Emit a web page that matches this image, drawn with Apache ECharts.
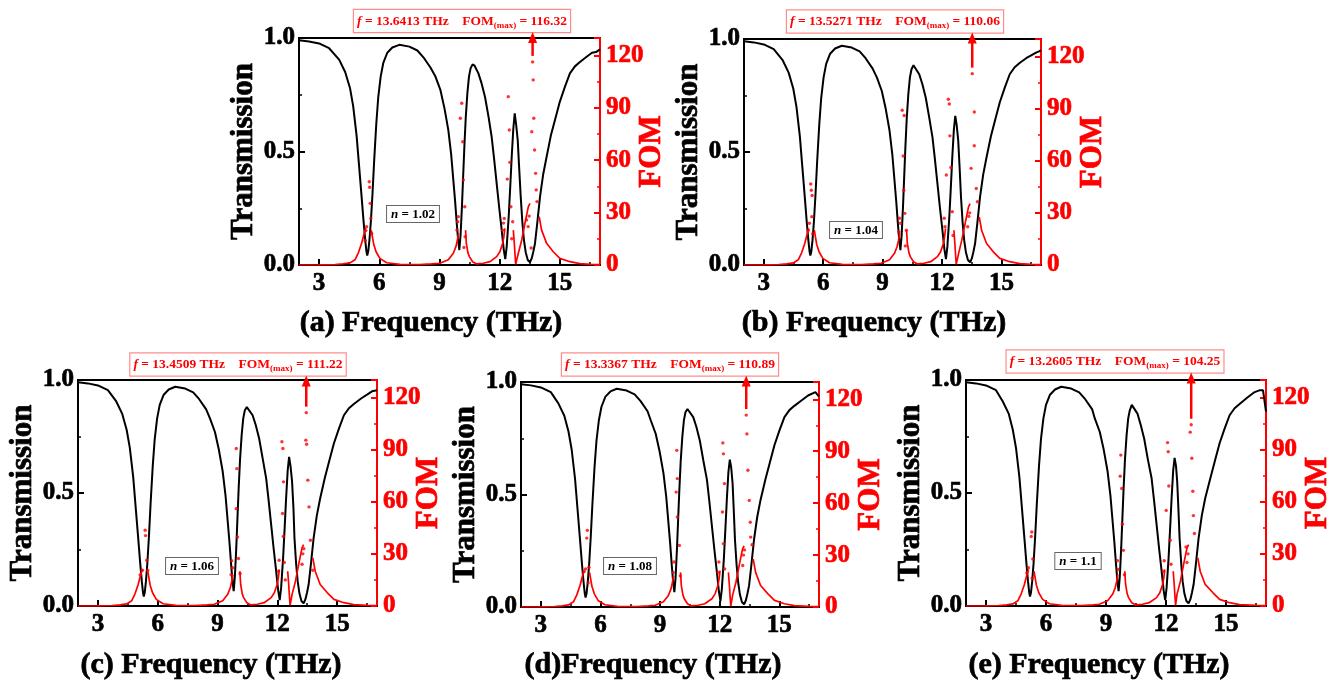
<!DOCTYPE html>
<html><head><meta charset="utf-8">
<script src="https://cdn.jsdelivr.net/npm/echarts@6/dist/echarts.min.js"></script>
<style>html,body{margin:0;padding:0;background:#fff}#c{width:1337px;height:689px}</style>
</head><body><div id="c"></div>
<script>
// ---------- data ----------
const panelLetters = ['(a) ', '(b) ', '(c) ', '(d)', '(e) '];
const nValues = ['1.02', '1.04', '1.06', '1.08', '1.1'];
const fPeak = [13.6413, 13.5271, 13.4509, 13.3367, 13.2605];
const fomMax = [116.32, 110.06, 111.22, 110.89, 104.25];
const xTickLabels = [3, 6, 9, 12, 15];
const xMinorTicks = [4.5, 7.5, 10.5, 13.5, 16.5];

const transA = [[2,0.99],[2.5,0.985],[3,0.976],[3.5,0.955],[4.0,0.905],[4.3,0.85],[4.54,0.78],[4.7,0.70],[4.87,0.57],[5.0,0.43],[5.12,0.30],[5.22,0.19],[5.30,0.11],[5.36,0.06],[5.40,0.042],[5.45,0.06],[5.51,0.11],[5.58,0.19],[5.66,0.31],[5.74,0.45],[5.85,0.62],[5.95,0.74],[6.07,0.83],[6.2,0.89],[6.4,0.935],[6.65,0.958],[7.0,0.97],[7.5,0.962],[7.9,0.945],[8.2,0.915],[8.55,0.87],[8.8,0.83],[9.05,0.77],[9.25,0.69],[9.44,0.595],[9.58,0.49],[9.69,0.375],[9.78,0.28],[9.86,0.185],[9.93,0.11],[9.99,0.066],[10.05,0.13],[10.12,0.257],[10.18,0.39],[10.24,0.52],[10.31,0.65],[10.39,0.756],[10.47,0.83],[10.55,0.866],[10.65,0.884],[10.75,0.878],[10.94,0.844],[11.1,0.80],[11.27,0.74],[11.45,0.65],[11.6,0.565],[11.72,0.47],[11.85,0.36],[11.98,0.25],[12.1,0.155],[12.2,0.07],[12.28,0.026],[12.35,0.08],[12.45,0.213],[12.53,0.35],[12.6,0.477],[12.68,0.60],[12.75,0.668],[12.82,0.62],[12.9,0.55],[12.97,0.43],[13.05,0.30],[13.13,0.19],[13.21,0.11],[13.3,0.055],[13.4,0.022],[13.51,0.012],[13.6,0.03],[13.68,0.06],[13.76,0.095],[13.88,0.19],[14.01,0.30],[14.17,0.40],[14.34,0.477],[14.55,0.57],[14.76,0.64],[15.0,0.72],[15.25,0.785],[15.5,0.844],[15.75,0.875],[16.0,0.894],[16.3,0.915],[16.6,0.935],[16.8,0.938],[17,0.95]];
const transB = [[2,0.99],[2.5,0.985],[3,0.976],[3.5,0.955],[3.96,0.905],[4.26,0.85],[4.49,0.78],[4.65,0.70],[4.82,0.57],[4.95,0.43],[5.07,0.30],[5.17,0.19],[5.25,0.11],[5.31,0.06],[5.35,0.042],[5.40,0.06],[5.46,0.11],[5.53,0.19],[5.61,0.31],[5.69,0.45],[5.80,0.62],[5.90,0.74],[6.02,0.83],[6.15,0.89],[6.35,0.935],[6.60,0.958],[6.94,0.97],[7.44,0.962],[7.84,0.945],[8.14,0.915],[8.49,0.87],[8.71,0.83],[8.96,0.77],[9.16,0.69],[9.35,0.595],[9.49,0.49],[9.60,0.375],[9.69,0.28],[9.77,0.185],[9.84,0.11],[9.90,0.066],[9.96,0.13],[10.03,0.257],[10.09,0.39],[10.15,0.52],[10.22,0.65],[10.30,0.756],[10.38,0.83],[10.46,0.866],[10.56,0.884],[10.66,0.878],[10.85,0.844],[11.01,0.80],[11.18,0.74],[11.36,0.65],[11.52,0.565],[11.64,0.47],[11.77,0.36],[11.90,0.25],[12.02,0.155],[12.12,0.07],[12.20,0.026],[12.27,0.08],[12.37,0.213],[12.45,0.35],[12.52,0.477],[12.60,0.60],[12.67,0.66],[12.74,0.62],[12.82,0.55],[12.89,0.43],[12.96,0.30],[13.04,0.19],[13.12,0.11],[13.21,0.055],[13.31,0.022],[13.42,0.012],[13.51,0.03],[13.59,0.06],[13.67,0.095],[13.79,0.19],[13.92,0.30],[14.08,0.40],[14.25,0.477],[14.47,0.57],[14.68,0.64],[14.92,0.72],[15.17,0.785],[15.42,0.844],[15.67,0.875],[15.92,0.894],[16.25,0.915],[16.55,0.93],[16.75,0.94],[16.9,0.945],[17,0.95]];
const transC = [[2,0.99],[2.5,0.985],[3,0.976],[3.5,0.955],[3.92,0.905],[4.22,0.85],[4.44,0.78],[4.60,0.70],[4.77,0.57],[4.90,0.43],[5.02,0.30],[5.12,0.19],[5.20,0.11],[5.26,0.06],[5.30,0.042],[5.35,0.06],[5.41,0.11],[5.48,0.19],[5.56,0.31],[5.64,0.45],[5.75,0.62],[5.85,0.74],[5.97,0.83],[6.10,0.89],[6.30,0.935],[6.55,0.958],[6.88,0.97],[7.38,0.962],[7.78,0.945],[8.08,0.915],[8.43,0.87],[8.62,0.83],[8.87,0.77],[9.07,0.69],[9.26,0.595],[9.40,0.49],[9.51,0.375],[9.60,0.28],[9.68,0.185],[9.75,0.11],[9.81,0.066],[9.87,0.13],[9.94,0.257],[10.00,0.39],[10.06,0.52],[10.13,0.65],[10.21,0.756],[10.29,0.83],[10.37,0.866],[10.47,0.88],[10.57,0.875],[10.76,0.844],[10.92,0.80],[11.09,0.74],[11.27,0.65],[11.44,0.565],[11.56,0.47],[11.69,0.36],[11.82,0.25],[11.94,0.155],[12.04,0.07],[12.12,0.026],[12.19,0.08],[12.29,0.213],[12.37,0.35],[12.44,0.477],[12.52,0.60],[12.59,0.66],[12.66,0.62],[12.74,0.55],[12.81,0.43],[12.86,0.30],[12.94,0.19],[13.02,0.11],[13.11,0.055],[13.21,0.022],[13.32,0.012],[13.41,0.03],[13.49,0.06],[13.57,0.095],[13.69,0.19],[13.82,0.30],[13.98,0.40],[14.15,0.477],[14.39,0.57],[14.60,0.64],[14.84,0.72],[15.09,0.785],[15.34,0.844],[15.59,0.875],[15.84,0.894],[16.2,0.918],[16.5,0.935],[16.75,0.95],[17,0.955]];
const transD = [[2,0.99],[2.5,0.985],[3,0.976],[3.5,0.955],[3.88,0.905],[4.18,0.85],[4.39,0.78],[4.55,0.70],[4.72,0.57],[4.85,0.43],[4.97,0.30],[5.07,0.19],[5.15,0.11],[5.21,0.06],[5.25,0.042],[5.30,0.06],[5.36,0.11],[5.43,0.19],[5.51,0.31],[5.59,0.45],[5.70,0.62],[5.80,0.74],[5.92,0.83],[6.05,0.89],[6.25,0.935],[6.50,0.958],[6.82,0.97],[7.32,0.962],[7.72,0.945],[8.02,0.915],[8.37,0.87],[8.53,0.83],[8.78,0.77],[8.98,0.69],[9.17,0.595],[9.31,0.49],[9.42,0.375],[9.51,0.28],[9.59,0.185],[9.66,0.11],[9.72,0.066],[9.78,0.13],[9.85,0.257],[9.91,0.39],[9.97,0.52],[10.04,0.65],[10.12,0.756],[10.20,0.83],[10.28,0.866],[10.38,0.88],[10.48,0.875],[10.67,0.844],[10.83,0.80],[11.00,0.74],[11.18,0.65],[11.36,0.565],[11.48,0.47],[11.61,0.36],[11.74,0.25],[11.86,0.155],[11.96,0.07],[12.04,0.026],[12.11,0.08],[12.21,0.213],[12.29,0.35],[12.36,0.477],[12.44,0.60],[12.51,0.655],[12.58,0.62],[12.65,0.55],[12.71,0.43],[12.77,0.30],[12.85,0.19],[12.93,0.11],[13.02,0.055],[13.12,0.022],[13.23,0.012],[13.32,0.03],[13.40,0.06],[13.48,0.095],[13.60,0.19],[13.73,0.30],[13.89,0.40],[14.06,0.477],[14.31,0.57],[14.52,0.64],[14.76,0.72],[15.01,0.785],[15.26,0.844],[15.51,0.875],[15.76,0.894],[16.15,0.92],[16.45,0.94],[16.82,0.955],[17,0.935]];
const transE = [[2,0.99],[2.5,0.985],[3,0.976],[3.5,0.955],[3.84,0.905],[4.14,0.85],[4.34,0.78],[4.50,0.70],[4.67,0.57],[4.80,0.43],[4.92,0.30],[5.02,0.19],[5.10,0.11],[5.16,0.06],[5.20,0.042],[5.25,0.06],[5.31,0.11],[5.38,0.19],[5.46,0.31],[5.54,0.45],[5.65,0.62],[5.75,0.74],[5.87,0.83],[6.00,0.89],[6.20,0.935],[6.45,0.958],[6.76,0.97],[7.26,0.962],[7.66,0.945],[7.96,0.915],[8.31,0.87],[8.44,0.83],[8.69,0.77],[8.89,0.69],[9.08,0.595],[9.22,0.49],[9.33,0.375],[9.42,0.28],[9.50,0.185],[9.57,0.11],[9.63,0.066],[9.69,0.13],[9.76,0.257],[9.82,0.39],[9.88,0.52],[9.95,0.65],[10.03,0.756],[10.11,0.83],[10.19,0.866],[10.29,0.89],[10.39,0.885],[10.58,0.85],[10.74,0.80],[10.91,0.74],[11.09,0.65],[11.28,0.565],[11.40,0.47],[11.53,0.36],[11.66,0.25],[11.78,0.155],[11.88,0.07],[11.96,0.026],[12.03,0.08],[12.13,0.213],[12.21,0.35],[12.28,0.477],[12.36,0.60],[12.43,0.655],[12.50,0.62],[12.56,0.55],[12.62,0.43],[12.68,0.30],[12.76,0.19],[12.83,0.11],[12.92,0.055],[13.02,0.022],[13.13,0.012],[13.22,0.03],[13.30,0.06],[13.38,0.095],[13.50,0.19],[13.63,0.30],[13.79,0.40],[13.96,0.477],[14.23,0.57],[14.44,0.64],[14.68,0.72],[14.93,0.785],[15.18,0.844],[15.43,0.875],[15.68,0.894],[16.1,0.925],[16.4,0.945],[16.7,0.955],[16.85,0.955],[17,0.86]];

const fomLineA = [[2,0],[3,0.1],[3.8,0.3],[4.2,0.7],[4.54,1.2],[4.79,3],[4.96,7],[5.12,12.4],[5.24,17.8],[5.33,21],[5.45,'-'],[5.6,20],[5.66,16],[5.72,12],[5.84,7.6],[6.03,3.8],[6.37,1.3],[7.03,0.4],[8.0,0.3],[8.6,0.6],[9.02,1],[9.44,3],[9.69,6.7],[9.82,10.5],[9.89,14],[9.95,18],[10.1,'-'],[10.3,20],[10.34,12.4],[10.42,7],[10.49,4.8],[10.65,1.9],[10.85,0.6],[11.18,1],[11.52,1.9],[11.85,4.8],[12.01,7.6],[12.15,12.4],[12.21,16.2],[12.26,21],[12.4,'-'],[12.68,20],[12.73,12.4],[12.77,5],[12.8,0.5],[12.93,6.7],[13.1,14.3],[13.26,23.9],[13.43,33.4],[13.51,35.3],[13.7,'-'],[13.97,27.7],[14.09,20],[14.34,12.4],[14.67,7.6],[15.0,3.8],[15.5,1.9],[16.0,0.8],[16.5,0.4],[17,0.3]];
const fomLineB = [[2,0],[3,0.1],[3.76,0.3],[4.16,0.7],[4.49,1.2],[4.74,3],[4.91,7],[5.07,12.4],[5.19,17.8],[5.28,21],[5.4,'-'],[5.55,20],[5.61,16],[5.67,12],[5.79,7.6],[5.98,3.8],[6.32,1.3],[6.97,0.4],[7.94,0.3],[8.54,0.6],[8.93,1],[9.35,3],[9.6,6.7],[9.73,10.5],[9.8,14],[9.86,18],[10.0,'-'],[10.21,20],[10.25,12.4],[10.33,7],[10.4,4.8],[10.56,1.9],[10.76,0.6],[11.09,1],[11.43,1.9],[11.77,4.8],[11.93,7.6],[12.07,12.4],[12.13,16.2],[12.18,21],[12.3,'-'],[12.6,20],[12.65,12.4],[12.69,5],[12.72,0.5],[12.84,6.7],[13.0,14.3],[13.17,23.9],[13.34,33.4],[13.42,35.3],[13.6,'-'],[13.88,27.7],[14.0,20],[14.25,12.4],[14.59,7.6],[14.92,3.8],[15.42,1.9],[15.92,0.8],[16.5,0.4],[17,0.3]];
const fomLineC = [[2,0],[3,0.1],[3.72,0.3],[4.12,0.7],[4.44,1.2],[4.69,3],[4.86,7],[5.02,12.4],[5.14,17.8],[5.23,21],[5.35,'-'],[5.5,20],[5.56,16],[5.62,12],[5.74,7.6],[5.93,3.8],[6.27,1.3],[6.91,0.4],[7.88,0.3],[8.48,0.6],[8.84,1],[9.26,3],[9.51,6.7],[9.64,10.5],[9.71,14],[9.77,18],[9.92,'-'],[10.12,20],[10.16,12.4],[10.24,7],[10.31,4.8],[10.47,1.9],[10.67,0.6],[11.0,1],[11.34,1.9],[11.69,4.8],[11.85,7.6],[11.99,12.4],[12.05,16.2],[12.1,21],[12.24,'-'],[12.52,20],[12.57,12.4],[12.61,5],[12.64,0.5],[12.74,6.7],[12.91,14.3],[13.07,23.9],[13.24,33.4],[13.32,35.3],[13.51,'-'],[13.78,27.7],[13.9,20],[14.15,12.4],[14.51,7.6],[14.84,3.8],[15.34,1.9],[15.84,0.8],[16.5,0.4],[17,0.3]];
const fomLineD = [[2,0],[3,0.1],[3.68,0.3],[4.08,0.7],[4.39,1.2],[4.64,3],[4.81,7],[4.97,12.4],[5.09,17.8],[5.18,21],[5.3,'-'],[5.45,20],[5.51,16],[5.57,12],[5.69,7.6],[5.88,3.8],[6.22,1.3],[6.85,0.4],[7.82,0.3],[8.42,0.6],[8.75,1],[9.17,3],[9.42,6.7],[9.55,10.5],[9.62,14],[9.68,18],[9.83,'-'],[10.03,20],[10.07,12.4],[10.15,7],[10.22,4.8],[10.38,1.9],[10.58,0.6],[10.91,1],[11.25,1.9],[11.61,4.8],[11.77,7.6],[11.91,12.4],[11.97,16.2],[12.02,21],[12.16,'-'],[12.44,20],[12.49,12.4],[12.53,5],[12.56,0.5],[12.65,6.7],[12.82,14.3],[12.98,23.9],[13.15,33.4],[13.23,35.3],[13.42,'-'],[13.69,27.7],[13.81,20],[14.06,12.4],[14.43,7.6],[14.76,3.8],[15.26,1.9],[15.76,0.8],[16.5,0.4],[17,0.3]];
const fomLineE = [[2,0],[3,0.1],[3.64,0.3],[4.04,0.7],[4.34,1.2],[4.59,3],[4.76,7],[4.92,12.4],[5.04,17.8],[5.13,21],[5.25,'-'],[5.4,20],[5.46,16],[5.52,12],[5.64,7.6],[5.83,3.8],[6.17,1.3],[6.79,0.4],[7.76,0.3],[8.36,0.6],[8.66,1],[9.08,3],[9.33,6.7],[9.46,10.5],[9.53,14],[9.59,18],[9.74,'-'],[9.94,20],[9.98,12.4],[10.06,7],[10.13,4.8],[10.29,1.9],[10.49,0.6],[10.82,1],[11.16,1.9],[11.53,4.8],[11.69,7.6],[11.83,12.4],[11.89,16.2],[11.94,21],[12.08,'-'],[12.36,20],[12.41,12.4],[12.45,5],[12.48,0.5],[12.55,6.7],[12.72,14.3],[12.88,23.9],[13.05,33.4],[13.13,35.3],[13.32,'-'],[13.59,27.7],[13.71,20],[13.96,12.4],[14.35,7.6],[14.68,3.8],[15.18,1.9],[15.68,0.8],[16.5,0.4],[17,0.3]];

const fomDotsA = [[5.33,19.7],[5.37,21.9],[5.50,47.7],[5.52,44.5],[5.55,35.3],[5.58,26.7],[5.30,14],[5.62,18],[9.91,24.8],[9.94,27.7],[9.87,20],[10.04,84],[10.11,92.6],[10.16,70.6],[10.19,48.7],[10.26,33.4],[10.28,16.2],[10.22,10],[12.15,20],[12.23,26.7],[12.19,24],[12.38,49.2],[12.43,96.4],[12.48,77.3],[12.51,58.8],[12.56,33.4],[12.65,24.8],[12.6,15],[13.34,25.8],[13.47,28],[13.42,22],[13.57,9.7],[13.6,76.3],[13.6413,116.32],[13.67,106],[13.7,84],[13.74,65.9],[13.79,52.5],[13.82,43],[13.86,36.3]];
const fomDotsB = [[5.24,20],[5.30,24],[5.37,46.6],[5.40,43],[5.42,27.8],[5.44,40],[5.47,18],[9.85,26.9],[9.9,24],[9.82,19],[9.99,89],[10.04,62.7],[10.07,43],[10.09,86],[10.12,29.7],[10.2,20],[10.15,11],[12.11,26.9],[12.15,22],[12.22,51.8],[12.32,95.3],[12.37,92.6],[12.4,74.3],[12.45,56.1],[12.52,30.6],[12.56,17],[13.35,28],[13.40,30],[13.3,22],[13.47,55.6],[13.5271,110.06],[13.63,88],[13.63,68.6],[13.73,44],[13.79,36.4]];
const fomDotsC = [[5.12,18],[5.23,20.6],[5.37,43.6],[5.39,40.5],[5.45,26.3],[5.5,20.6],[9.71,26],[9.75,22],[9.68,18],[9.94,90.6],[9.97,79],[9.94,56],[10.0,39.7],[10.05,27.3],[10.13,18.7],[12.05,20],[12.09,26.3],[12.23,94.5],[12.28,90.6],[12.31,71.4],[12.26,53.2],[12.30,40],[12.35,25],[12.4,15],[13.28,30],[13.33,33],[13.24,24],[13.43,95.4],[13.4509,111.22],[13.47,93],[13.53,72.4],[13.59,57],[13.66,37.8],[13.78,20.6]];
const fomDotsD = [[5.18,20.5],[5.25,22],[5.34,44.3],[5.31,39.8],[5.42,23],[5.38,14],[9.66,20],[9.70,26],[9.84,90.5],[9.87,74.2],[9.81,66.4],[9.87,52],[9.97,35.6],[10.02,18],[11.92,20],[11.96,26],[12.16,94.8],[12.19,88.5],[12.24,71.3],[12.14,54.9],[12.19,36.6],[12.25,22],[13.2,30],[13.25,33],[13.16,24],[13.3367,110.89],[13.37,100],[13.42,79],[13.49,61.6],[13.54,49],[13.56,40.4],[13.63,36]];
const fomDotsE = [[5.04,19],[5.12,22],[5.29,42.6],[5.26,40],[5.34,27],[5.31,16],[9.57,26],[9.6,21],[9.74,86.8],[9.71,74.7],[9.79,67.6],[9.82,47],[9.87,32],[9.92,18],[11.87,20],[11.91,26],[12.08,94],[12.11,88.7],[12.14,69],[12.01,55],[12.21,37.8],[12.25,24],[13.0,34],[13.1,30],[13.05,25],[13.2605,104.25],[13.21,100],[13.29,85],[13.34,66],[13.37,52],[13.42,41.7]];

const transSets = [transA, transB, transC, transD, transE];
const fomLineSets = [fomLineA, fomLineB, fomLineC, fomLineD, fomLineE];
const fomDotSets = [fomDotsA, fomDotsB, fomDotsC, fomDotsD, fomDotsE];

// ---------- layout ----------
const FONT = "'Liberation Serif','Times New Roman',serif";
const RED = '#ff0000';
const gridBoxes = [[299,38,301,227],[744,39,297,226],[78,380,299,226],[521,382,298,225],[966,380,300,226]];
const titlePos = [[431,323],[874,323],[211,665],[653,665],[1099,665]];
const nBoxPos = [[413,214],[856,230],[192,566],[630,566],[1078,561]];
const notePos = [[462,21],[895,21.5],[238,364.5],[670,364.5],[1115,361.5]];

const chart = echarts.init(document.getElementById('c'), null, {renderer: 'canvas'});
const grid = [], xAxis = [], yAxis = [], series = [];
const boldBlack = {color: '#000', fontFamily: FONT, fontWeight: 'bold', textBorderColor: '#000', textBorderWidth: 0.7};
const boldRed = {color: RED, fontFamily: FONT, fontWeight: 'bold', textBorderColor: RED, textBorderWidth: 0.7};

for (let i = 0; i < 5; i++) {
  const g = gridBoxes[i];
  grid.push({left: g[0], top: g[1], width: g[2], height: g[3], show: true,
    borderColor: '#000', borderWidth: 2, backgroundColor: 'transparent', containLabel: false});
  xAxis.push({type: 'value', gridIndex: i, min: 2, max: 17, position: 'bottom',
    axisLine: {show: true, onZero: false, lineStyle: {color: '#000', width: 2}},
    axisTick: {show: true, inside: true, length: 6, customValues: xTickLabels, lineStyle: {color: '#000', width: 2}},
    axisLabel: Object.assign({show: true, customValues: xTickLabels, margin: 6, fontSize: 25}, boldBlack),
    splitLine: {show: false}});
  xAxis.push({type: 'value', gridIndex: i, min: 2, max: 17, position: 'bottom',
    axisLine: {show: false},
    axisTick: {show: true, inside: true, length: 3, customValues: xMinorTicks, lineStyle: {color: '#000', width: 1.5}},
    axisLabel: {show: false}, splitLine: {show: false}});
  yAxis.push({type: 'value', gridIndex: i, min: 0, max: 1, interval: 0.5, position: 'left',
    name: 'Transmission', nameLocation: 'middle', nameGap: 40, nameMoveOverlap: false,
    nameTextStyle: Object.assign({fontSize: 31}, boldBlack),
    axisLine: {show: true, onZero: false, lineStyle: {color: '#000', width: 2}},
    axisTick: {show: true, inside: true, length: 6, lineStyle: {color: '#000', width: 2}},
    minorTick: {show: true, splitNumber: 2, length: 3, lineStyle: {color: '#000', width: 1.5}},
    axisLabel: Object.assign({margin: 4, fontSize: 25, formatter: v => v.toFixed(1)}, boldBlack),
    splitLine: {show: false}});
  yAxis.push({type: 'value', gridIndex: i, min: 0, max: 130, interval: 30, position: 'right',
    name: 'FOM', nameLocation: 'middle', nameGap: 36, nameMoveOverlap: false,
    nameTextStyle: Object.assign({fontSize: 31}, boldRed),
    axisLine: {show: true, onZero: false, lineStyle: {color: RED, width: 2}},
    axisTick: {show: true, inside: true, length: 6, lineStyle: {color: RED, width: 2}},
    minorTick: {show: true, splitNumber: 2, length: 3, lineStyle: {color: RED, width: 1.5}},
    axisLabel: Object.assign({margin: 6, fontSize: 25, formatter: v => (v % 30 === 0 ? String(v) : '')}, boldRed),
    splitLine: {show: false}});

  series.push({type: 'line', xAxisIndex: 2 * i, yAxisIndex: 2 * i, data: transSets[i],
    symbol: 'none', lineStyle: {color: '#000', width: 2}, itemStyle: {color: '#000'}, z: 3});
  series.push({type: 'line', xAxisIndex: 2 * i, yAxisIndex: 2 * i + 1, data: fomLineSets[i],
    symbol: 'none', connectNulls: false, lineStyle: {color: RED, width: 1.7}, itemStyle: {color: RED}, z: 4});
  series.push({type: 'scatter', xAxisIndex: 2 * i, yAxisIndex: 2 * i + 1, data: fomDotSets[i],
    symbolSize: 3.4, itemStyle: {color: RED}, z: 4});
}

chart.setOption({animation: false, backgroundColor: '#fff', grid, xAxis, yAxis, series});

const graphics = [];
for (let i = 0; i < 5; i++) {
  graphics.push({type: 'text', x: titlePos[i][0], y: titlePos[i][1], z: 50,
    style: {text: panelLetters[i] + 'Frequency (THz)', fill: '#000', font: 'bold 30px ' + FONT,
      stroke: '#000', lineWidth: 0.7, align: 'center', verticalAlign: 'middle'}});
  graphics.push({type: 'text', x: nBoxPos[i][0], y: nBoxPos[i][1], z: 50,
    style: {text: '{i|n} = ' + nValues[i], fill: '#000', fontFamily: FONT, fontWeight: 'bold', fontSize: 13,
      align: 'center', verticalAlign: 'middle', backgroundColor: '#fff', borderColor: '#666', borderWidth: 1,
      padding: [2, 4, 1, 4],
      rich: {i: {fontStyle: 'italic', fontWeight: 'bold', fontFamily: FONT, fontSize: 13, fill: '#000'}}}});
  graphics.push({type: 'text', x: notePos[i][0], y: notePos[i][1], z: 50,
    style: {text: '{i|f}{t| = ' + fPeak[i].toFixed(4) + ' THz    FOM}{s|(max)}{t| = ' + fomMax[i].toFixed(2) + '}',
      fill: RED, fontFamily: FONT, fontWeight: 'bold', fontSize: 13.5,
      align: 'center', verticalAlign: 'middle', backgroundColor: '#fff', borderColor: 'rgba(255,0,0,0.45)',
      borderWidth: 1.2, padding: [3, 3, 2, 3],
      rich: {
        i: {fontStyle: 'italic', fontWeight: 'bold', fontFamily: FONT, fontSize: 13.5, fill: RED, lineHeight: 17},
        t: {fontWeight: 'bold', fontFamily: FONT, fontSize: 13.5, fill: RED, lineHeight: 17},
        s: {fontWeight: 'bold', fontFamily: FONT, fontSize: 9, fill: RED, verticalAlign: 'bottom', lineHeight: 11}
      }}});
  const p = chart.convertToPixel({xAxisIndex: 2 * i, yAxisIndex: 2 * i + 1}, [fPeak[i], fomMax[i]]);
  const ax = p[0], yb = p[1] - 6, yt = notePos[i][1] + 11;
  graphics.push({type: 'line', z: 60, shape: {x1: ax, y1: yb, x2: ax, y2: yt + 8},
    style: {stroke: RED, lineWidth: 2.5}});
  graphics.push({type: 'polygon', z: 60, shape: {points: [[ax - 4.5, yt + 11], [ax + 4.5, yt + 11], [ax, yt]]},
    style: {fill: RED}});
}
chart.setOption({graphic: graphics});
</script>
</body></html>
